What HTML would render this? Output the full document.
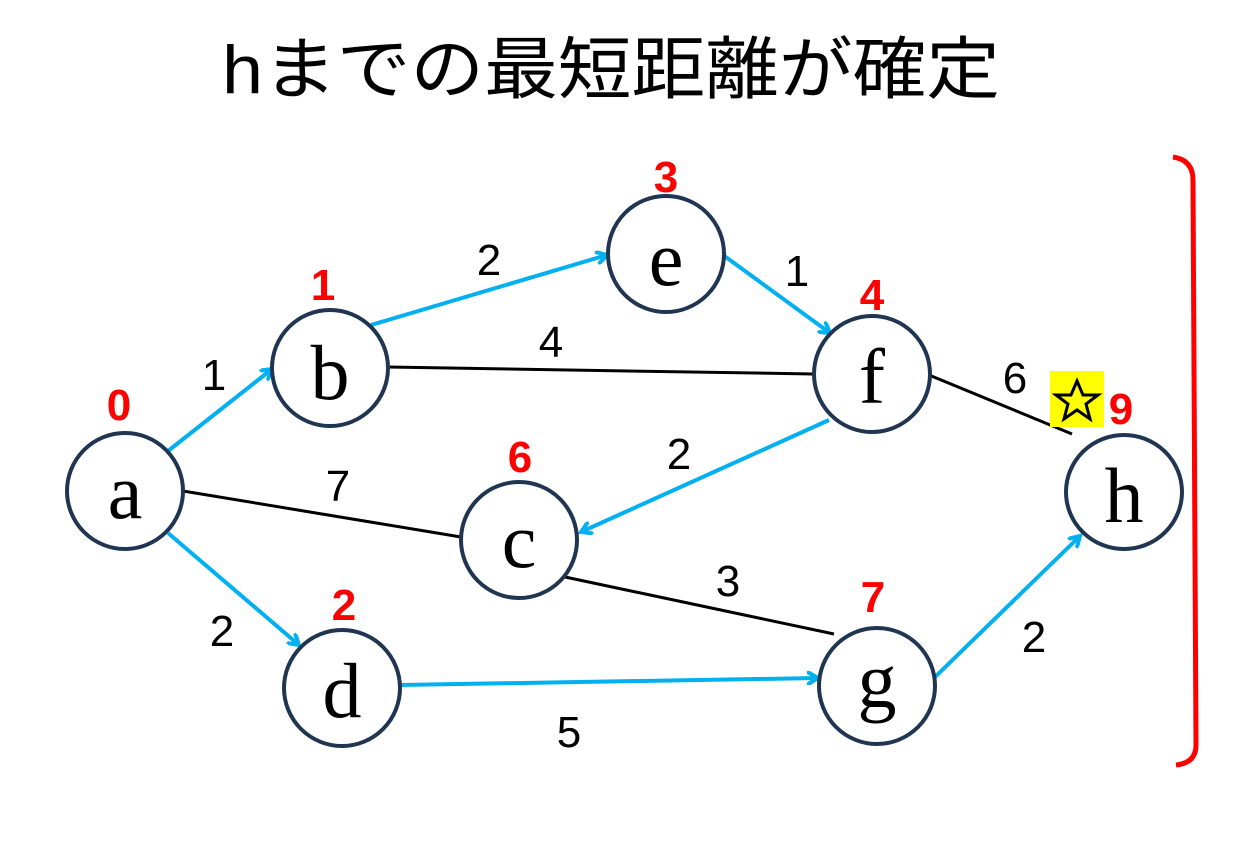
<!DOCTYPE html>
<html><head><meta charset="utf-8"><style>
html,body{margin:0;padding:0;background:#fff;}
svg{display:block;}
</style></head><body>
<svg width="1257" height="858" viewBox="0 0 1257 858" xmlns="http://www.w3.org/2000/svg">
<defs>
<marker id="ar" markerWidth="14" markerHeight="14" refX="11" refY="7" orient="auto" markerUnits="userSpaceOnUse">
<path d="M1,1 L11,7 L1,13" fill="none" stroke="#00b0f0" stroke-width="4" stroke-linecap="round"/>
</marker>
</defs>
<text x="222" y="93" textLength="778" lengthAdjust="spacingAndGlyphs" font-family="Liberation Sans, Noto Sans CJK JP, sans-serif" font-size="68" fill="#000">hまでの最短距離が確定</text>
<g stroke="#000" stroke-width="3" fill="none">
<line x1="388" y1="367" x2="813" y2="374"/>
<line x1="183" y1="491" x2="461" y2="537"/>
<line x1="565" y1="577" x2="834" y2="634"/>
<line x1="929" y1="375" x2="1072" y2="434"/>
</g>
<g stroke="#00b0f0" stroke-width="4" fill="none" marker-end="url(#ar)">
<line x1="168" y1="451" x2="272" y2="369"/>
<line x1="371" y1="325" x2="607" y2="255"/>
<line x1="723" y1="255" x2="830" y2="333"/>
<line x1="829" y1="420" x2="581" y2="532"/>
<line x1="168" y1="533" x2="299" y2="645"/>
<line x1="400" y1="685" x2="818" y2="678"/>
<line x1="934" y1="678" x2="1080" y2="536"/>
</g>
<g stroke="#1f3552" stroke-width="4" fill="#fff">
<ellipse cx="125" cy="491" rx="58" ry="58"/>
<ellipse cx="330" cy="368" rx="58" ry="58"/>
<ellipse cx="666" cy="254" rx="58" ry="58"/>
<ellipse cx="872" cy="374" rx="58" ry="58"/>
<ellipse cx="519" cy="540" rx="58" ry="58"/>
<ellipse cx="342" cy="688" rx="58" ry="58"/>
<ellipse cx="877" cy="686" rx="58" ry="58"/>
<ellipse cx="1124" cy="492" rx="58" ry="57"/>
</g>
<g font-family="Liberation Serif, serif" font-size="78" text-anchor="middle" fill="#000">
<text x="125" y="518">a</text>
<text x="330" y="399">b</text>
<text x="666" y="285">e</text>
<text x="872" y="403">f</text>
<text x="519" y="567">c</text>
<text x="342" y="717">d</text>
<text x="877" y="707">g</text>
<text x="1124" y="522">h</text>
</g>
<g font-family="Liberation Sans, sans-serif" font-size="44" text-anchor="middle" fill="#000">
<text x="214" y="390">1</text>
<text x="489" y="275">2</text>
<text x="797" y="286">1</text>
<text x="551" y="357">4</text>
<text x="338" y="501">7</text>
<text x="679" y="469">2</text>
<text x="1015" y="393">6</text>
<text x="728" y="596">3</text>
<text x="222" y="646">2</text>
<text x="569" y="747">5</text>
<text x="1034" y="652">2</text>
</g>
<g font-family="Liberation Sans, sans-serif" font-size="44" font-weight="bold" text-anchor="middle" fill="#ff0000">
<text x="119" y="420">0</text>
<text x="323" y="300">1</text>
<text x="666" y="192">3</text>
<text x="872" y="310">4</text>
<text x="520" y="472">6</text>
<text x="344" y="620">2</text>
<text x="873" y="612">7</text>
<text x="1121" y="424">9</text>
</g>
<rect x="1050" y="371" width="54" height="56" fill="#ffff00"/>
<path d="M1077,381 L1083,395 L1098,395 L1086,404 L1090,419 L1077,410 L1064,419 L1068,404 L1056,395 L1071,395 Z" fill="none" stroke="#000" stroke-width="3" stroke-linejoin="miter"/>
<path d="M1173,157 Q1193,160 1193,180 L1196,745 Q1196,763 1176,765" fill="none" stroke="#ff0000" stroke-width="5"/>
</svg>
</body></html>
